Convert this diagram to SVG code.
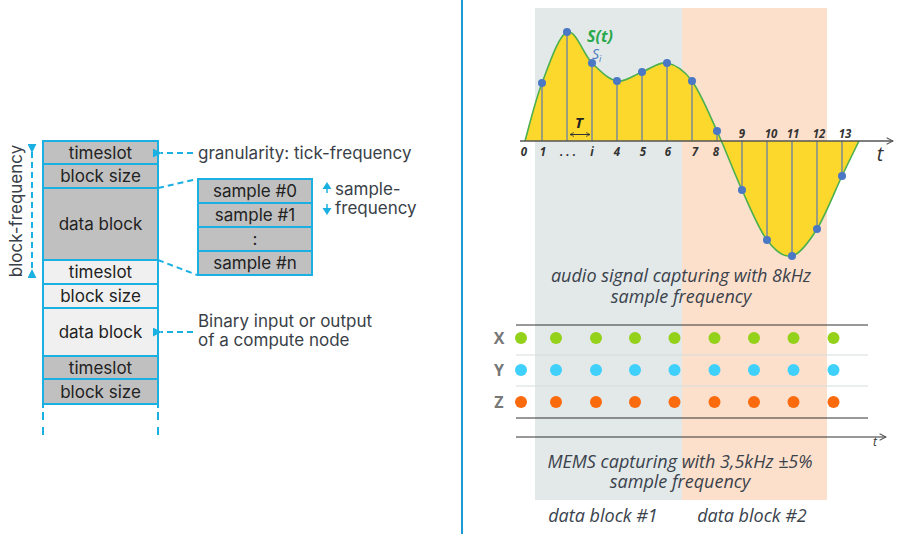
<svg xmlns="http://www.w3.org/2000/svg" width="900" height="534" viewBox="0 0 900 534">
<style>
.cell{stroke:#1ab0e2;stroke-width:2}
.g{fill:#c0c0c0}
.l{fill:#f0f0f0}
.ct{font-family:Inter,"Liberation Sans",sans-serif;font-size:17px;fill:#222;text-anchor:middle}
.lab{font-family:Inter,"Liberation Sans",sans-serif;font-size:17px;fill:#3a3f48}
.dash{stroke:#1ab0e2;stroke-width:2;stroke-dasharray:6 4;fill:none}
.it{font-family:"Open Sans","Liberation Sans",sans-serif;font-style:italic;fill:#3a424c;text-anchor:middle;font-size:18px}
.tk{font-family:"Open Sans","Liberation Sans",sans-serif;font-style:italic;font-weight:bold;font-size:11.5px;fill:#333;text-anchor:middle}
.stem{stroke:#7d8a96;stroke-width:1.5}
.dot{fill:#4a78c4}
.gx{fill:#94d11a}.gy{fill:#3fd0fb}.gz{fill:#fb6a0c}
.xyz{font-family:"Open Sans","Liberation Sans",sans-serif;font-weight:bold;font-size:16px;fill:#777;text-anchor:middle}
</style>
<defs>
<marker id="ba" viewBox="0 0 10 10" refX="1" refY="5" markerWidth="9" markerHeight="9" orient="auto-start-reverse" markerUnits="userSpaceOnUse">
<path d="M10,0 L0,5 L10,10 Z" fill="#1ab0e2"/>
</marker>
<marker id="ax" viewBox="0 0 10 10" refX="9" refY="5" markerWidth="8" markerHeight="8" orient="auto" markerUnits="userSpaceOnUse">
<path d="M1,1 L9,5 L1,9" fill="none" stroke="#555" stroke-width="1.3"/>
</marker>
<marker id="ta" viewBox="0 0 10 10" refX="9" refY="5" markerWidth="5" markerHeight="5" orient="auto-start-reverse" markerUnits="userSpaceOnUse">
<path d="M1,1 L9,5 L1,9" fill="none" stroke="#333" stroke-width="1.5"/>
</marker>
</defs>
<rect width="900" height="534" fill="#fff"/>

<!-- divider -->
<line x1="462" y1="0" x2="462" y2="534" stroke="#1a9ad6" stroke-width="2"/>

<!-- left stack -->
<g id="stack">
<rect class="cell g" x="43" y="141" width="115" height="23"/>
<text class="ct" x="100.5" y="158.5">timeslot</text>
<rect class="cell g" x="43" y="164" width="115" height="24"/>
<text class="ct" x="100.5" y="182">block size</text>
<rect class="cell g" x="43" y="188" width="115" height="72"/>
<text class="ct" x="100.5" y="230">data block</text>
<rect class="cell l" x="43" y="260" width="115" height="24"/>
<text class="ct" x="100.5" y="278">timeslot</text>
<rect class="cell l" x="43" y="284" width="115" height="24"/>
<text class="ct" x="100.5" y="302">block size</text>
<rect class="cell l" x="43" y="308" width="115" height="48"/>
<text class="ct" x="100.5" y="338">data block</text>
<rect class="cell g" x="43" y="356" width="115" height="23"/>
<text class="ct" x="100.5" y="373.5">timeslot</text>
<rect class="cell g" x="43" y="379" width="115" height="25"/>
<text class="ct" x="100.5" y="397.5">block size</text>
<path d="M43,404 V408 M158,404 V408" stroke="#1ab0e2" stroke-width="2"/>
<path d="M43,412 V437 M158,412 V437" stroke="#1ab0e2" stroke-width="2" stroke-dasharray="8 7"/>
</g>

<g id="block-frequency">
<line x1="32" y1="152" x2="32" y2="270" class="dash" marker-start="url(#ba)" marker-end="url(#ba)"/>
<text class="lab" transform="translate(22,211) rotate(-90)" text-anchor="middle">block-frequency</text>
</g>

<g id="samples">
<rect class="cell g" x="198" y="179" width="114" height="24"/>
<text class="ct" x="255" y="197">sample #0</text>
<rect class="cell g" x="198" y="203" width="114" height="24"/>
<text class="ct" x="255" y="221">sample #1</text>
<rect class="cell g" x="198" y="227" width="114" height="24"/>
<text class="ct" x="255" y="245">:</text>
<rect class="cell g" x="198" y="251" width="114" height="24"/>
<text class="ct" x="255" y="269">sample #n</text>
</g>

<g id="sample-frequency">
<path d="M327,182 L322.5,189 L331.5,189 Z M327,215 L322.5,208 L331.5,208 Z" fill="#1ab0e2"/>
<path d="M327,188 V193 M327,204 V209" stroke="#1ab0e2" stroke-width="1.5"/>
<text class="lab" x="335" y="195">sample-</text>
<text class="lab" x="335" y="214">frequency</text>
</g>

<g id="granularity">
<text class="lab" x="198" y="159">granularity: tick-frequency</text>
</g>
<g id="binary">
<text class="lab" x="198" y="327">Binary input or output</text>
<text class="lab" x="198" y="346">of a compute node</text>
</g>

<g id="connectors-left">
<line x1="193" y1="153" x2="161" y2="153" class="dash" marker-end="url(#ba)"/>
<line x1="193" y1="332" x2="161" y2="332" class="dash" marker-end="url(#ba)"/>
<line x1="158" y1="188" x2="197" y2="179" class="dash"/>
<line x1="158" y1="260" x2="197" y2="275" class="dash"/>
</g>

<!-- right side -->
<g id="bands">
<rect x="535" y="8" width="147" height="492" fill="#e3e8e8"/>
<rect x="682" y="8" width="145" height="492" fill="#fde0cb"/>
</g>

<g id="signal">
<path d="M525,141 C527.8,131.3 535,101.2 542,83 C549,64.8 558.7,35.3 567,32 C575.3,28.7 583.7,54.8 592,63 C600.3,71.2 608.7,79.5 617,81 C625.3,82.5 633.7,75 642,72 C650.3,69 658.7,61.5 667,63 C675.3,64.5 683.7,69.7 692,81 C700.3,92.3 708.7,112.8 717,131 C725.3,149.2 733.7,171.8 742,190 C750.3,208.2 758.7,229 767,240 C775.3,251 783.7,257.8 792,256 C800.3,254.2 808.7,242.3 817,229 C825.3,215.7 835,190.7 842,176 C849,161.3 856.2,146.8 859,141 Z" fill="#fcd82c" stroke="none"/>
<g class="stem">
<line x1="542" y1="83" x2="542" y2="141"/>
<line x1="567" y1="32" x2="567" y2="141"/>
<line x1="592" y1="63" x2="592" y2="141"/>
<line x1="617" y1="81" x2="617" y2="141"/>
<line x1="642" y1="72" x2="642" y2="141"/>
<line x1="667" y1="63" x2="667" y2="141"/>
<line x1="692" y1="81" x2="692" y2="141"/>
<line x1="717" y1="131" x2="717" y2="141"/>
<line x1="742" y1="190" x2="742" y2="141"/>
<line x1="767" y1="240" x2="767" y2="141"/>
<line x1="792" y1="256" x2="792" y2="141"/>
<line x1="817" y1="229" x2="817" y2="141"/>
<line x1="842" y1="176" x2="842" y2="141"/>
</g>
<path d="M525,141 C527.8,131.3 535,101.2 542,83 C549,64.8 558.7,35.3 567,32 C575.3,28.7 583.7,54.8 592,63 C600.3,71.2 608.7,79.5 617,81 C625.3,82.5 633.7,75 642,72 C650.3,69 658.7,61.5 667,63 C675.3,64.5 683.7,69.7 692,81 C700.3,92.3 708.7,112.8 717,131 C725.3,149.2 733.7,171.8 742,190 C750.3,208.2 758.7,229 767,240 C775.3,251 783.7,257.8 792,256 C800.3,254.2 808.7,242.3 817,229 C825.3,215.7 835,190.7 842,176 C849,161.3 856.2,146.8 859,141" fill="none" stroke="#4cb050" stroke-width="1.6"/>
<line x1="520" y1="141" x2="893" y2="141" stroke="#555" stroke-width="1.3" marker-end="url(#ax)"/>
<g class="dot">
<circle cx="542" cy="83" r="4"/><circle cx="567" cy="32" r="4"/><circle cx="592" cy="63" r="4"/>
<circle cx="617" cy="81" r="4"/><circle cx="642" cy="72" r="4"/><circle cx="667" cy="63" r="4"/>
<circle cx="692" cy="81" r="4"/><circle cx="717" cy="131" r="4"/><circle cx="742" cy="190" r="4"/>
<circle cx="767" cy="240" r="4"/><circle cx="792" cy="256" r="4"/><circle cx="817" cy="229" r="4"/>
<circle cx="842" cy="176" r="4"/>
</g>
<text class="tk" x="524" y="156">0</text>
<text class="tk" x="543" y="156">1</text>
<text class="tk" x="568" y="156">. . .</text>
<text class="tk" x="592" y="156">i</text>
<text class="tk" x="617" y="156">4</text>
<text class="tk" x="643" y="156">5</text>
<text class="tk" x="668" y="156">6</text>
<text class="tk" x="695" y="156">7</text>
<text class="tk" x="716" y="156">8</text>
<text class="tk" x="742" y="138">9</text>
<text class="tk" x="771" y="138">10</text>
<text class="tk" x="793" y="138">11</text>
<text class="tk" x="819" y="138">12</text>
<text class="tk" x="845" y="138">13</text>
<text x="880" y="161" font-family="'Open Sans','Liberation Sans',sans-serif" font-style="italic" font-size="20" fill="#333" text-anchor="middle">t</text>
<text x="587" y="42" font-family="'Open Sans','Liberation Sans',sans-serif" font-style="italic" font-weight="bold" font-size="16" fill="#2aa84c">S(t)</text>
<text x="592" y="59" font-family="'Open Sans','Liberation Sans',sans-serif" font-style="italic" font-size="14" fill="#4a78c4">S<tspan font-size="9" dy="3">i</tspan></text>
<text x="579" y="128" font-family="'Open Sans','Liberation Sans',sans-serif" font-style="italic" font-weight="bold" font-size="15" fill="#222" text-anchor="middle">T</text>
<line x1="570" y1="134.5" x2="590" y2="134.5" stroke="#333" stroke-width="1" marker-start="url(#ta)" marker-end="url(#ta)"/>
</g>

<g id="audio-caption">
<text class="it" x="681" y="282">audio signal capturing with 8kHz</text>
<text class="it" x="681" y="303">sample frequency</text>
</g>

<g id="mems">
<line x1="516" y1="325" x2="868" y2="325" stroke="#333" stroke-width="1"/>
<line x1="516" y1="355" x2="868" y2="355" stroke="#d4dcdc" stroke-width="1"/>
<line x1="516" y1="386" x2="868" y2="386" stroke="#d4dcdc" stroke-width="1"/>
<line x1="516" y1="418" x2="868" y2="418" stroke="#333" stroke-width="1"/>
<line x1="516" y1="437" x2="886" y2="437" stroke="#333" stroke-width="1" marker-end="url(#ax)"/>
<text x="875" y="446" font-family="'Open Sans','Liberation Sans',sans-serif" font-style="italic" font-size="12" fill="#333" text-anchor="middle">t</text>
<text class="xyz" x="499" y="344">X</text>
<text class="xyz" x="499" y="376">Y</text>
<text class="xyz" x="499" y="408">Z</text>
<g class="gx">
<circle cx="521" cy="338" r="6"/><circle cx="556" cy="338" r="6"/><circle cx="596" cy="338" r="6"/><circle cx="635" cy="338" r="6"/><circle cx="674.5" cy="338" r="6"/><circle cx="714.5" cy="338" r="6"/><circle cx="754" cy="338" r="6"/><circle cx="793.5" cy="338" r="6"/><circle cx="833.5" cy="338" r="6"/>
</g>
<g class="gy">
<circle cx="521" cy="370" r="6"/><circle cx="556" cy="370" r="6"/><circle cx="596" cy="370" r="6"/><circle cx="635" cy="370" r="6"/><circle cx="674.5" cy="370" r="6"/><circle cx="714.5" cy="370" r="6"/><circle cx="754" cy="370" r="6"/><circle cx="793.5" cy="370" r="6"/><circle cx="833.5" cy="370" r="6"/>
</g>
<g class="gz">
<circle cx="521" cy="402" r="6"/><circle cx="556" cy="402" r="6"/><circle cx="596" cy="402" r="6"/><circle cx="635" cy="402" r="6"/><circle cx="674.5" cy="402" r="6"/><circle cx="714.5" cy="402" r="6"/><circle cx="754" cy="402" r="6"/><circle cx="793.5" cy="402" r="6"/><circle cx="833.5" cy="402" r="6"/>
</g>
</g>

<g id="mems-caption">
<text class="it" x="680" y="468">MEMS capturing with 3,5kHz ±5%</text>
<text class="it" x="680" y="488">sample frequency</text>
</g>
<g id="block-labels">
<text class="it" x="603" y="522">data block #1</text>
<text class="it" x="752" y="522">data block #2</text>
</g>
</svg>
